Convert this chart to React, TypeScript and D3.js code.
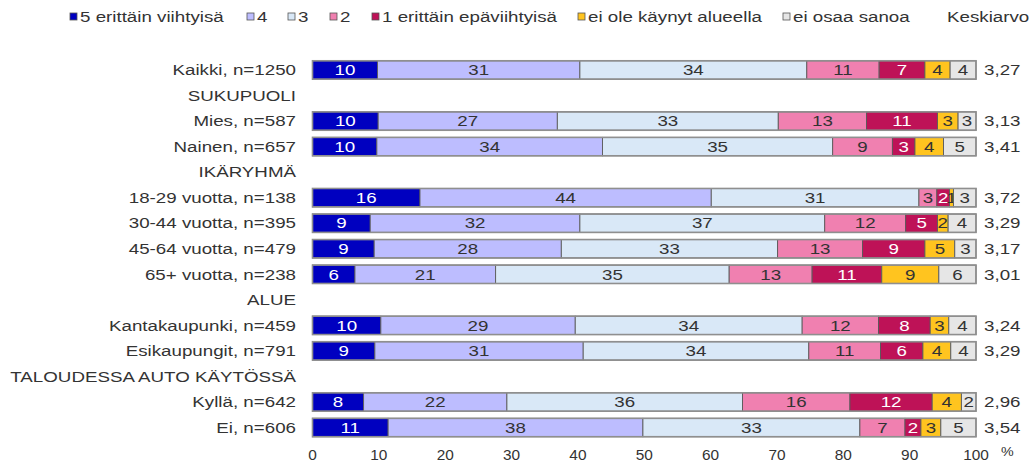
import React from "react";
import * as d3 from "d3";

const rowLabels = [
  "Kaikki, n=1250",
  "SUKUPUOLI",
  "Mies, n=587",
  "Nainen, n=657",
  "IKÄRYHMÄ",
  "18-29 vuotta, n=138",
  "30-44 vuotta, n=395",
  "45-64 vuotta, n=479",
  "65+ vuotta, n=238",
  "ALUE",
  "Kantakaupunki, n=459",
  "Esikaupungit, n=791",
  "TALOUDESSA AUTO KÄYTÖSSÄ",
  "Kyllä, n=642",
  "Ei, n=606",
];

const seriesNames = [
  "5 erittäin viihtyisä",
  "4",
  "3",
  "2",
  "1 erittäin epäviihtyisä",
  "ei ole käynyt alueella",
  "ei osaa sanoa",
];

const seriesColors = ["#0000C0", "#BDBDFF", "#D9E8F7", "#F080B0", "#BE1257", "#FFC41F", "#E6E6E6"];
const labelColors = ["#ffffff", "#333333", "#333333", "#333333", "#ffffff", "#333333", "#333333"];

const s5 = [9.8, null, 9.9, 9.7, null, 16.2, 8.7, 9.3, 6.4, null, 10.3, 9.4, null, 7.7, 11.4];
const s4 = [30.5, null, 27.0, 34.0, null, 43.9, 31.6, 28.2, 21.2, null, 29.3, 31.4, null, 21.6, 38.4];
const s3 = [34.2, null, 33.3, 34.7, null, 31.3, 36.9, 32.6, 35.2, null, 34.2, 34.0, null, 35.5, 32.7];
const s2 = [10.9, null, 13.3, 9.0, null, 2.7, 12.2, 12.8, 12.5, null, 11.5, 10.8, null, 16.2, 6.8];
const s1 = [6.9, null, 10.7, 3.4, null, 1.9, 4.8, 9.4, 10.5, null, 7.8, 6.4, null, 12.4, 2.4];
const sEiOle = [3.8, null, 3.1, 4.3, null, 0.6, 1.6, 4.5, 8.6, null, 2.8, 4.2, null, 4.4, 3.0];
const sEiOsaa = [3.9, null, 2.7, 4.9, null, 3.4, 4.2, 3.2, 5.6, null, 4.1, 3.8, null, 2.2, 5.3];

const means = [3.27, null, 3.13, 3.41, null, 3.72, 3.29, 3.17, 3.01, null, 3.24, 3.29, null, 2.96, 3.54];

const xTicks = [0, 10, 20, 30, 40, 50, 60, 70, 80, 90, 100];

const FONT = "'Liberation Sans', Arial, sans-serif";
const TXT = "#333333";

function T(props: {
  x: number;
  y: number;
  anchor?: "start" | "middle" | "end";
  fill?: string;
  size?: number;
  sx?: number;
  children: React.ReactNode;
}) {
  const { x, y, anchor = "start", fill = TXT, size = 15, sx = 1.25, children } = props;
  return (
    <text
      transform={`translate(${x},${y}) scale(${sx},1)`}
      textAnchor={anchor}
      dy="0.35em"
      fontSize={size}
      fill={fill}
      fontFamily={FONT}
    >
      {children}
    </text>
  );
}

export default function App() {
  const W = 1030;
  const H = 469;
  const series = [s5, s4, s3, s2, s1, sEiOle, sEiOsaa];
  const keys = series.map((_, k) => String(k));

  const x = d3.scaleLinear().domain([0, 100]).range([312.5, 976]);
  const y = d3
    .scaleBand<number>()
    .domain(d3.range(rowLabels.length))
    .range([57.2, 440.3])
    .paddingInner(0.28)
    .paddingOuter(0.14);

  const rows = rowLabels.map((_, i) => {
    const o: Record<string, number> = { i };
    series.forEach((s, k) => (o[String(k)] = s[i] ?? 0));
    return o;
  });
  const stacked = d3.stack<Record<string, number>>().keys(keys)(rows);

  const legendSq = [70, 247, 288, 330, 372, 578, 783];
  const bw = y.bandwidth();
  const fmt = (v: number) => v.toFixed(2).replace(".", ",");

  return (
    <div>
      <style>{"body{margin:0;}"}</style>
      <svg width={W} height={H} style={{ display: "block" }} fontFamily={FONT}>
        <rect x={0} y={0} width={W} height={H} fill="#ffffff" />
        {/* legend */}
        {seriesNames.map((n, k) => (
          <g key={n}>
            <rect
              x={legendSq[k]}
              y={13}
              width={7}
              height={7}
              fill={seriesColors[k]}
              stroke="#555"
              strokeWidth={0.8}
            />
            <T x={legendSq[k] + 10} y={16.5}>
              {n}
            </T>
          </g>
        ))}
        <T x={947} y={16.5}>
          Keskiarvo
        </T>

        {/* row labels */}
        {rowLabels.map((l, i) => (
          <T key={l} x={296} y={(y(i) as number) + bw / 2} anchor="end">
            {l}
          </T>
        ))}

        {/* bars */}
        {stacked.map((layer, k) => (
          <g key={k}>
            {layer.map((d, i) => {
              if (series[k][i] == null) return null;
              const x0 = x(d[0]);
              const x1 = x(d[1]);
              const yy = y(i) as number;
              return (
                <g key={i}>
                  <rect
                    x={x0}
                    y={yy}
                    width={x1 - x0}
                    height={bw}
                    fill={seriesColors[k]}
                    stroke="#5a5a5a"
                    strokeWidth={0.9}
                  />
                  <T x={(x0 + x1) / 2} y={yy + bw / 2} anchor="middle" fill={labelColors[k]}>
                    {Math.round(series[k][i] as number)}
                  </T>
                </g>
              );
            })}
          </g>
        ))}
        {rowLabels.map((_, i) =>
          means[i] == null ? null : (
            <g key={"o" + i}>
              <rect
                x={x(0)}
                y={y(i) as number}
                width={x(100) - x(0)}
                height={bw}
                fill="none"
                stroke="#8f8f8f"
                strokeWidth={1.6}
              />
              <T x={984} y={(y(i) as number) + bw / 2}>
                {fmt(means[i] as number)}
              </T>
            </g>
          )
        )}

        {/* x axis labels */}
        {xTicks.map((t) => (
          <T key={t} x={x(t)} y={455} anchor="middle" size={14} sx={1.1}>
            {t}
          </T>
        ))}
        <T x={1001} y={451} size={13} sx={1.1}>
          %
        </T>
      </svg>
    </div>
  );
}
